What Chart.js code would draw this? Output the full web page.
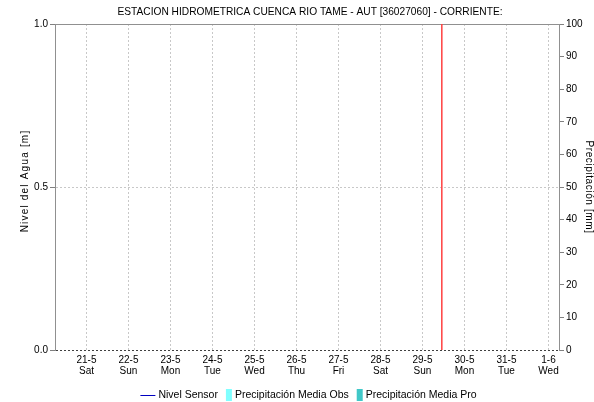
<!DOCTYPE html>
<html>
<head>
<meta charset="utf-8">
<script src="https://cdn.jsdelivr.net/npm/chart.js@4/dist/chart.umd.min.js"></script>
<style>
html,body{margin:0;padding:0;background:#fff;}
#wrap{width:594px;height:402px;position:relative;}
</style>
</head>
<body>
<div id="wrap"><canvas id="c" width="594" height="402"></canvas></div>
<script>
// ---- data ----
const TITLE = "ESTACION HIDROMETRICA CUENCA RIO TAME - AUT [36027060] - CORRIENTE:";
const Y_TITLE = "Nivel del Agua [m]";
const Y1_TITLE = "Precipitación [mm]";
const DATES = ["21-5","22-5","23-5","24-5","25-5","26-5","27-5","28-5","29-5","30-5","31-5","1-6"];
const WEEKDAYS = ["Sat","Sun","Mon","Tue","Wed","Thu","Fri","Sat","Sun","Mon","Tue","Wed"];
const X_RANGE = [-0.75, 11.25];          // days relative to 21-5
const NIVEL_SENSOR = [];                 // no level data in window
const PRECIP_OBS = [];                   // no observed precipitation
const PRECIP_PRO = [];                   // no forecast precipitation
const NOW_MARK = 8.46;                   // current time marker (29-5 ~11h)
const LEVEL_TICKS = [0, 0.5, 1.0];
const PRECIP_RANGE = [0, 100];
const LEGEND_LABELS = ["Nivel Sensor","Precipitación Media Obs","Precipitación Media Pro"];

const FONT = "'Liberation Sans', Arial, sans-serif";

const textPlugin = {
  id: 'customText',
  afterDraw(chart) {
    const ctx = chart.ctx;
    const a = chart.chartArea;
    ctx.save();
    ctx.fillStyle = '#000';
    // title
    ctx.font = "10.2px " + FONT;
    ctx.textAlign = 'center';
    ctx.textBaseline = 'middle';
    ctx.fillText(TITLE, (a.left + a.right) / 2 + 3, 12);
    // axis titles
    const cy = (a.top + a.bottom) / 2;
    ctx.font = "10px " + FONT;
    ctx.save();
    ctx.translate(25, cy - 6);
    ctx.rotate(-Math.PI / 2);
    ctx.letterSpacing = '1.2px';
    ctx.fillText(Y_TITLE, 0, 0);
    ctx.restore();
    ctx.save();
    ctx.translate(589, cy);
    ctx.rotate(Math.PI / 2);
    ctx.letterSpacing = '0.6px';
    ctx.fillText(Y1_TITLE, 0, 0);
    ctx.restore();
    // legend
    ctx.font = "10.5px " + FONT;
    ctx.textAlign = 'left';
    const y = 395;
    const items = [
      {type:'line', color:'#0000c0', w:15},
      {type:'box', color:'#80ffff', w:6},
      {type:'box', color:'#40c8c8', w:6}
    ];
    let total = 0;
    items.forEach((it,i)=>{ it.tw = ctx.measureText(LEGEND_LABELS[i]).width; total += it.w + 3 + it.tw; if(i) total += 8; });
    let x = 308.5 - total/2;
    items.forEach((it,i)=>{
      if (it.type === 'line') {
        ctx.strokeStyle = it.color; ctx.lineWidth = 1;
        ctx.beginPath(); ctx.moveTo(x, y+0.5); ctx.lineTo(x+it.w, y+0.5); ctx.stroke();
      } else {
        ctx.fillStyle = it.color; ctx.fillRect(x, y-6, it.w, 12);
      }
      x += it.w + 3;
      ctx.fillStyle = '#000';
      ctx.fillText(LEGEND_LABELS[i], x, y);
      x += it.tw + 8;
    });
    ctx.restore();
  }
};

new Chart(document.getElementById('c'), {
  data: {
    datasets: [
      {type:'line', label:LEGEND_LABELS[0], data:NIVEL_SENSOR, yAxisID:'y', borderColor:'#0000c0', borderWidth:1, pointRadius:0},
      {type:'bar', label:LEGEND_LABELS[1], data:PRECIP_OBS, yAxisID:'y1', backgroundColor:'#80ffff'},
      {type:'bar', label:LEGEND_LABELS[2], data:PRECIP_PRO, yAxisID:'y1', backgroundColor:'#40c8c8'},
      {type:'line', label:'now', data:[{x:NOW_MARK,y:0},{x:NOW_MARK,y:1}], yAxisID:'y', borderColor:'#ff4040', borderWidth:1.5, pointRadius:0}
    ]
  },
  options: {
    responsive:false, animation:false, devicePixelRatio:1,
    layout:{padding:{left:0,right:0,top:24,bottom:22}},
    plugins:{
      legend:{display:false},
      tooltip:{enabled:false},
      title:{display:false}
    },
    scales:{
      x:{type:'linear', position:'bottom', min:X_RANGE[0], max:X_RANGE[1], offset:false,
        afterBuildTicks:s=>{ s.ticks = DATES.map((d,i)=>({value:i})); },
        afterFit:s=>{ s.height = 30; },
        ticks:{autoSkip:false, maxRotation:0, padding:5, color:'#000', font:{family:FONT,size:10,lineHeight:1.1},
          callback:(v)=>{ const i=Math.round(v); return [DATES[i], WEEKDAYS[i]]; }},
        grid:{drawTicks:false, offset:false, color:'#c8c8c8', lineWidth:1},
        border:{display:false, dash:[2,2]}
      },
      xTop:{type:'linear', position:'top', min:X_RANGE[0], max:X_RANGE[1], offset:false,
        afterFit:s=>{ s.height = 0; },
        ticks:{display:false}, grid:{display:false},
        border:{display:true, color:'#909090', width:1}
      },
      y:{type:'linear', position:'left', min:0, max:1,
        afterBuildTicks:s=>{ s.ticks = LEVEL_TICKS.map(v=>({value:v})); },
        afterFit:s=>{ s.width = 55; },
        ticks:{padding:2, color:'#000', font:{family:FONT,size:10}, callback:v=>v.toFixed(1)},
        grid:{tickLength:5, tickColor:'#808080', tickBorderDash:[],
          color:c=> c.tick && c.tick.value===0.5 ? '#c8c8c8' : (c.tick && c.tick.value===0 ? '#404040' : 'transparent')},
        border:{display:true, color:'#909090', width:1, dash:[2,2]}
      },
      y1:{type:'linear', position:'right', min:PRECIP_RANGE[0], max:PRECIP_RANGE[1],
        afterFit:s=>{ s.width = 35; },
        ticks:{stepSize:10, padding:2, color:'#000', font:{family:FONT,size:10}},
        grid:{drawOnChartArea:false, tickLength:5, tickColor:'#808080'},
        border:{display:true, color:'#909090', width:1}
      }
    }
  },
  plugins:[textPlugin]
});
</script>
</body>
</html>
